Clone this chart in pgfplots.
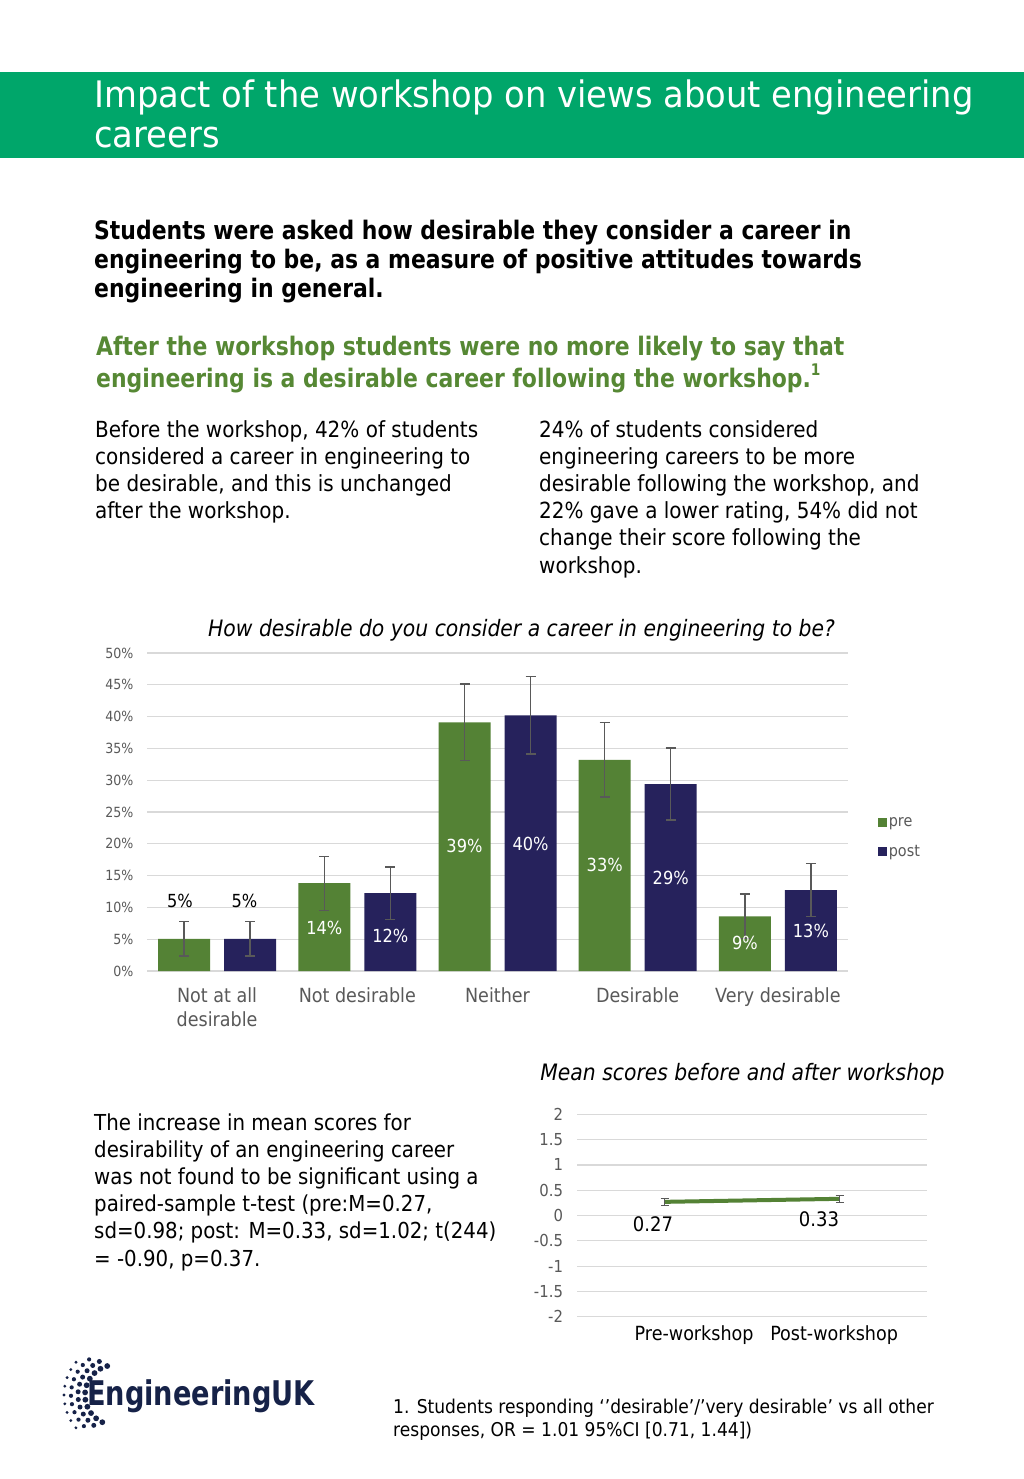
\documentclass[border=0pt]{standalone}
\usepackage{fontspec}
\setmainfont{DejaVu Sans}[FakeStretch=0.9]
\newfontfamily\titlefont{DejaVu Sans}[FakeStretch=0.925]
\newfontfamily\bfam{DejaVu Sans}[FakeStretch=0.86]
\newfontfamily\logofont{DejaVu Sans}[FakeStretch=0.8]
\usepackage{pgfplots}
\usepackage{pgfplotstable}
\pgfplotsset{compat=1.18}
\definecolor{banner}{RGB}{0,166,106}
\definecolor{pregreen}{RGB}{84,130,53}
\definecolor{headgreen}{RGB}{86,136,52}
\definecolor{postnavy}{RGB}{38,34,92}
\definecolor{txtgray}{RGB}{89,89,89}
\definecolor{gridgray}{RGB}{217,217,217}
\definecolor{logonavy}{RGB}{22,34,72}
\newcommand{\fs}[2]{\fontsize{#1}{#2}\selectfont}

\pgfplotstableread{
x y err
-0.2354 5.05 2.7
0.7646 13.8 4.25
1.7646 39.1 6.05
2.7646 33.2 5.85
3.7646 8.6 3.5
}\pretable
\pgfplotstableread{
x y err
0.2354 5.05 2.7
1.2354 12.25 4.1
2.2354 40.2 6.1
3.2354 29.4 5.65
4.2354 12.7 4.15
}\posttable
\pgfplotstableread{
x y lab
0.7646 6.8 14
1.2354 5.5 12
1.7646 19.6 39
2.2354 20.0 40
2.7646 16.6 33
3.2354 14.7 29
3.7646 4.4 9
4.2354 6.3 13
}\whitelabels
\pgfplotstableread{
x y lab
-0.2654 11.0 5
0.1954 11.0 5
}\blacklabels
\pgfplotstableread{
x y err
0 0.27 0.065
1 0.33 0.065
}\meantable
\pgfplotstableread{
x y lab
-0.066 -0.168 0.27
0.883 -0.069 0.33
}\meanlabels

\begin{document}
\begin{tikzpicture}
\fill[white] (0pt,0pt) rectangle (1024pt,-1479pt);
\useasboundingbox (0pt,0pt) rectangle (1024pt,-1479pt);
\begin{scope}[x=1pt,y=-1pt]
\fill[banner] (0,72) rectangle (1024,158);
\node[anchor=base west,inner sep=0pt,text=white,font=\titlefont\fs{36.5}{40}] at (94,108) {Impact of the workshop on views about engineering};
\node[anchor=base west,inner sep=0pt,text=white,font=\titlefont\fs{36.5}{40}] at (94,148) {careers};
% bold intro
\node[anchor=base west,inner sep=0pt,font=\bfam\bfseries\fs{25.5}{29}] at (94,240) {Students were asked how desirable they consider a career in};
\node[anchor=base west,inner sep=0pt,font=\bfam\bfseries\fs{25.5}{29}] at (94,269) {engineering to be, as a measure of positive attitudes towards};
\node[anchor=base west,inner sep=0pt,font=\bfam\bfseries\fs{25.5}{29}] at (94,297) {engineering in general.};
% green heading
\node[anchor=base west,inner sep=0pt,text=headgreen,font=\bfam\bfseries\fs{25.5}{29}] at (96,355) {After the workshop students were no more likely to say that};
\node[anchor=base west,inner sep=0pt,text=headgreen,font=\bfam\bfseries\fs{25.5}{29}] at (96,387) {engineering is a desirable career following the workshop.\raisebox{0.45em}{\fs{16}{16}1}};
% left column
\foreach \t [count=\i from 0] in {Before the workshop{,} 42\% of students,considered a career in engineering to,be desirable{,} and this is unchanged,after the workshop.}
  \node[anchor=base west,inner sep=0pt,font=\fs{22.2}{27}] at (95,437+27.2*\i) {\t};
% right column
\foreach \t [count=\i from 0] in {24\% of students considered,engineering careers to be more,desirable following the workshop{,} and,22\% gave a lower rating{,} 54\% did not,change their score following the,workshop.}
  \node[anchor=base west,inner sep=0pt,font=\fs{22.2}{27}] at (539,437+27.2*\i) {\t};
% chart title
\node[anchor=base,inner sep=0pt,font=\itshape\fs{22.6}{27}] at (521.5,636) {How desirable do you consider a career in engineering to be?};
% lower paragraph
\foreach \t [count=\i from 0] in {The increase in mean scores for,desirability of an engineering career,was not found to be significant using a,paired-sample t-test (pre:M=0.27{,},sd=0.98; post: M=0.33{,} sd=1.02; t(244),= -0.90{,} p=0.37.}
  \node[anchor=base west,inner sep=0pt,font=\fs{22}{27}] at (94,1130+27.2*\i) {\t};
% line chart title
\node[anchor=base,inner sep=0pt,font=\itshape\fs{22.6}{27}] at (742.5,1080) {Mean scores before and after workshop};
% footnote
\node[anchor=base west,inner sep=0pt,font=\fs{19}{23}] at (393,1413) {1. Students responding ‘’desirable’/’very desirable’ vs all other};
\node[anchor=base west,inner sep=0pt,font=\fs{19}{23}] at (393,1436) {responses, OR = 1.01 95\%CI [0.71, 1.44])};
% logo
\node[anchor=base west,inner sep=0pt,text=logonavy,font=\logofont\bfseries\fs{34}{36}] at (87,1405) {EngineeringUK};
\foreach \rr/\ss/\aa/\bb/\stp in {30/2.9/105/255/14,37/2.5/115/245/12,44/2.1/126/234/11,51/1.6/140/220/10}{
  \foreach \k in {0,...,20}{
    \pgfmathsetmacro{\ang}{\aa+\k*\stp}
    \pgfmathtruncatemacro{\ok}{\ang<=\bb ? 1 : 0}
    \ifnum\ok=1
      \fill[logonavy] ({115+\rr*cos(\ang)},{1395-\rr*sin(\ang)}) circle (\ss);
    \fi
  }
}
\end{scope}

% ---------------- bar chart ----------------
\begin{axis}[
  at={(147pt,-971pt)}, anchor=south west,
  scale only axis, width=701pt, height=318pt,
  xmin=-0.5, xmax=4.5, ymin=0, ymax=50,
  ytick={0,5,...,50},
  yticklabel={\pgfmathprintnumber{\tick}\%},
  /pgf/number format/assume math mode=true,
  xtick={0,1,2,3,4},
  xticklabels={Not at all\\desirable,Not desirable,Neither,Desirable,Very desirable},
  xticklabel style={align=center,font=\fs{19.5}{24},text=txtgray,yshift=-13pt},
  yticklabel style={font=\fs{14}{16},text=txtgray,xshift=-10pt},
  ymajorgrids, grid style={gridgray,line width=1.3pt},
  axis line style={draw=none},
  tick style={draw=none}, major tick length=0pt,
  clip=false,
  legend style={at={(1.043,0.42)},anchor=west,draw=none,fill=none,
    font=\fs{16}{18},text=txtgray,row sep=14pt,inner sep=0pt,
    nodes={inner sep=1.5pt}},
  legend cell align=left,
]
\addplot[ybar,bar width=52pt,bar shift=0pt,fill=pregreen,draw=none,
  legend image code/.code={\path[fill=pregreen] (0pt,-4.5pt) rectangle (9pt,4.5pt);},
  error bars/.cd, y dir=both, y explicit,
  error bar style={txtgray,line width=1.3pt},
  error mark options={txtgray,line width=1.3pt,mark size=5pt,rotate=90}]
  table[x=x,y=y,y error=err]{\pretable};
\addlegendentry{pre}
\addplot[ybar,bar width=52pt,bar shift=0pt,fill=postnavy,draw=none,
  legend image code/.code={\path[fill=postnavy] (0pt,-4.5pt) rectangle (9pt,4.5pt);},
  error bars/.cd, y dir=both, y explicit,
  error bar style={txtgray,line width=1.3pt},
  error mark options={txtgray,line width=1.3pt,mark size=5pt,rotate=90}]
  table[x=x,y=y,y error=err]{\posttable};
\addlegendentry{post}
\addplot[draw=none,mark=none,forget plot,
  nodes near coords={\pgfplotspointmeta\%},point meta=explicit symbolic,
  every node near coord/.style={anchor=center,text=white,font=\fs{18}{20}}]
  table[x=x,y=y,meta=lab]{\whitelabels};
\addplot[draw=none,mark=none,forget plot,
  nodes near coords={\pgfplotspointmeta\%},point meta=explicit symbolic,
  every node near coord/.style={anchor=center,text=black,font=\fs{18}{20}}]
  table[x=x,y=y,meta=lab]{\blacklabels};
\end{axis}

% ---------------- mean chart ----------------
\begin{axis}[
  at={(577pt,-1316.7pt)}, anchor=south west,
  scale only axis, width=350pt, height=202.4pt,
  xmin=-0.5, xmax=1.5, ymin=-2, ymax=2,
  ytick={-2,-1.5,...,2},
  yticklabels={-2,-1.5,-1,-0.5,0,0.5,1,1.5,2},
  xtick={0.169,0.969},
  xticklabels={Pre-workshop,Post-workshop},
  xticklabel style={font=\fs{19.5}{24},text=black,yshift=-5pt},
  yticklabel style={font=\fs{16.5}{18},text=txtgray,xshift=-10.5pt},
  ymajorgrids, grid style={gridgray,line width=1.2pt},
  axis line style={draw=none},
  tick style={draw=none}, major tick length=0pt,
  clip=false,
]
\addplot[pregreen,line width=4pt,mark=none,
  error bars/.cd, y dir=both, y explicit,
  error bar style={txtgray,line width=1.2pt},
  error mark options={txtgray,line width=1.2pt,mark size=4pt,rotate=90}]
  table[x=x,y=y,y error=err]{\meantable};
\addplot[draw=none,mark=none,forget plot,
  nodes near coords={\pgfplotspointmeta},point meta=explicit symbolic,
  every node near coord/.style={anchor=center,text=black,font=\fs{20}{22}}]
  table[x=x,y=y,meta=lab]{\meanlabels};
\end{axis}
\end{tikzpicture}
\end{document}
